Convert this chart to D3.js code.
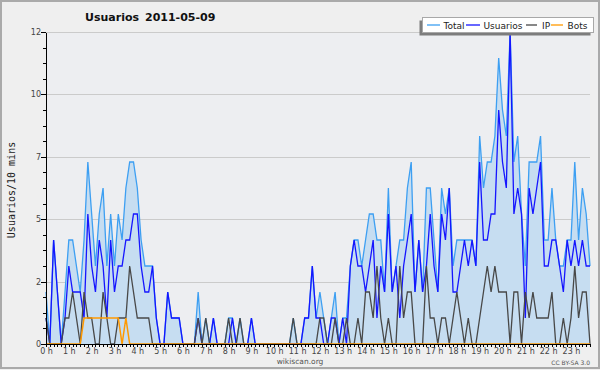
<!DOCTYPE html>
<meta charset="utf-8">
<style>
  body { margin: 0; background: #efefef; }
  svg { display: block; font-family: "DejaVu Sans", Verdana, sans-serif; }
</style>
<body>
<svg id="chart" width="600" height="370"></svg>
<script src="https://d3js.org/d3.v7.min.js"></script>
<script>
// users per 10 minutes, 144 slots (one day)
var total = [
  2,0,4,2,0,2, 4,4,3,2,4,7, 5,3,5,6,3,5, 3,5,4,6,7,7,
  6,4,3,3,3,1, 0,0,2,1,1,1, 0,0,0,0,2,0, 1,0,1,0,0,0,
  1,1,0,1,0,0, 1,0,0,0,0,0, 0,0,0,0,0,1, 0,0,1,1,3,1,
  2,1,0,1,2,0, 1,1,3,4,4,3, 4,5,5,4,4,2, 6,2,3,4,4,6,
  7,2,4,2,6,6, 4,2,6,5,6,3, 4,4,4,4,4,3, 8,6,7,7,8,11,
  9,8,12,7,8,5, 3,7,7,7,8,4, 4,6,4,3,3,4, 4,7,4,6,5,3
];
var usuarios = [
  1,0,4,2,0,1, 3,2,2,2,1,5, 3,2,4,3,1,4, 2,3,3,4,4,5,
  5,3,2,2,3,1, 0,0,2,1,1,1, 0,0,0,0,1,0, 0,0,1,0,0,0,
  0,1,0,0,0,0, 1,0,0,0,0,0, 0,0,0,0,0,0, 0,0,1,1,3,1,
  1,0,0,1,1,0, 1,0,3,4,3,3, 2,3,4,1,3,2, 5,2,3,1,3,4,
  5,2,4,2,3,5, 3,2,5,4,6,2, 2,3,4,3,4,3, 7,4,4,5,5,9,
  7,6,12,5,6,5, 1,6,5,6,7,3, 3,4,4,3,2,4, 3,4,3,4,3,3
];
var ip = [
  1,0,0,0,0,1, 1,2,1,0,2,1, 1,0,0,2,1,0, 0,1,1,1,3,2,
  1,1,1,1,0,0, 0,0,0,0,0,0, 0,0,0,0,1,0, 1,0,0,0,0,0,
  1,0,0,1,0,0, 0,0,0,0,0,0, 0,0,0,0,0,1, 0,0,0,0,0,0,
  1,1,0,0,1,0, 0,1,0,0,1,0, 2,2,1,3,1,0, 1,0,0,3,1,2,
  2,0,0,0,3,1, 1,0,1,1,0,1, 2,1,0,1,0,0, 1,2,3,2,3,2,
  2,2,0,2,2,0, 2,1,2,1,1,1, 1,2,0,0,1,0, 1,3,1,2,2,0
];
var bots = [
  0,0,0,0,0,0, 0,0,0,0,1,1, 1,1,1,1,1,1, 1,1,0,1,0,0,
  0,0,0,0,0,0, 0,0,0,0,0,0, 0,0,0,0,0,0, 0,0,0,0,0,0,
  0,0,0,0,0,0, 0,0,0,0,0,0, 0,0,0,0,0,0, 0,0,0,0,0,0,
  0,0,0,0,0,0, 0,0,0,0,0,0, 0,0,0,0,0,0, 0,0,0,0,0,0,
  0,0,0,0,0,0, 0,0,0,0,0,0, 0,0,0,0,0,0, 0,0,0,0,0,0,
  0,0,0,0,0,0, 0,0,0,0,0,0, 0,0,0,0,0,0, 0,0,0,0,0,0
];
var hourLabels = ["0 h","1 h","2 h","3 h","4 h","5 h","6 h","7 h","8 h","9 h","10 h","11 h",
  "12 h","13 h","14 h","15 h","16 h","17 h","18 h","19 h","20 h","21 h","22 h","23 h"];
var yTicks = [0, 2.4, 4.8, 7.2, 9.6, 12];
var seriesNames = ["Total", "Usuarios", "IP", "Bots"];
var seriesColors = ["#3d9ff2", "#1515ff", "#484848", "#ff9900"];

var svg = d3.select("#chart");
var x = d3.scaleLinear().domain([0, total.length - 1]).range([46, 590]);
var y = d3.scaleLinear().domain([0, 12]).range([344, 32]);

// page background + frame
svg.append("rect").attr("x", 1).attr("y", 1).attr("width", 598).attr("height", 367)
  .attr("fill", "#efefef").attr("stroke", "#aaa").attr("stroke-width", 2);

// plot area
svg.append("rect").attr("x", 46).attr("y", 32).attr("width", 544).attr("height", 312)
  .attr("fill", "#edeef1");

svg.append("g").selectAll("line").data(yTicks.slice(1)).enter().append("line")
  .attr("x1", 46).attr("x2", 590)
  .attr("y1", function (d) { return Math.round(y(d)) + 0.5; })
  .attr("y2", function (d) { return Math.round(y(d)) + 0.5; })
  .attr("stroke", "#cbcbcb");

// total area
var area = d3.area()
  .x(function (d, i) { return x(i); })
  .y0(y(0))
  .y1(function (d) { return y(d); });
svg.append("path").datum(total).attr("d", area).attr("fill", "#c6ddf1");

var line = d3.line()
  .x(function (d, i) { return x(i); })
  .y(function (d) { return y(d); });

[total, usuarios, ip, bots].forEach(function (s, k) {
  svg.append("path").datum(s).attr("d", line)
    .attr("fill", "none")
    .attr("stroke", seriesColors[k])
    .attr("stroke-width", k == 3 ? 1.5 : 1.3)
    .attr("stroke-linejoin", "miter");
});

// axes
var yMinor = svg.append("g").attr("transform", "translate(46,0)")
  .call(d3.axisLeft(y).tickValues(d3.range(0, 12.01, 0.6)).tickSize(3).tickSizeOuter(0).tickFormat(""));
var yAxis = svg.append("g").attr("transform", "translate(46,0)")
  .call(d3.axisLeft(y).tickValues(yTicks).tickSize(5).tickSizeOuter(0).tickPadding(0).tickFormat(d3.format(".0f")));
var xMinor = svg.append("g").attr("transform", "translate(0,344)")
  .call(d3.axisBottom(x).tickValues(d3.range(0, total.length)).tickSize(3).tickSizeOuter(0).tickFormat(""));
var xAxis = svg.append("g").attr("transform", "translate(0,344)")
  .call(d3.axisBottom(x).tickValues(d3.range(0, 144, 6)).tickSize(3).tickSizeOuter(0).tickPadding(1)
    .tickFormat(function (d, i) { return hourLabels[i]; }));

[yMinor, yAxis, xMinor, xAxis].forEach(function (g) {
  g.attr("font-family", null).attr("font-size", null);
  g.selectAll("path, line").attr("stroke", "#000").attr("shape-rendering", "crispEdges");
  g.selectAll("text").attr("fill", "#444").attr("font-size", "8px");
});

// titles
svg.append("text").attr("x", 85).attr("y", 20.5).attr("font-size", "11px").attr("font-weight", "bold")
  .attr("fill", "#111").text("Usuarios");
svg.append("text").attr("x", 145).attr("y", 20.5).attr("font-size", "11px").attr("font-weight", "bold")
  .attr("fill", "#111").text("2011-05-09");

svg.append("text").attr("transform", "translate(14.5,190) rotate(-90)")
  .attr("text-anchor", "middle").attr("font-family", "DejaVu Sans Mono")
  .attr("font-size", "10px").attr("fill", "#222").text("Usuarios/10 mins");

svg.append("text").attr("x", 300).attr("y", 364).attr("text-anchor", "middle")
  .attr("font-size", "7.5px").attr("fill", "#555").text("wikiscan.org");
svg.append("text").attr("x", 590).attr("y", 365).attr("text-anchor", "end")
  .attr("font-size", "6px").attr("fill", "#555").text("CC BY-SA 3.0");

// legend
var legend = svg.append("g");
legend.append("rect").attr("x", 419.5).attr("y", 20.5).attr("width", 171).attr("height", 15)
  .attr("fill", "#7d7d7d");
legend.append("rect").attr("x", 422.5).attr("y", 17.5).attr("width", 171).attr("height", 15)
  .attr("fill", "#fff").attr("stroke", "#a8a8a8");
var legX = [[427, 440, 443.5], [466, 480, 483.5], [526, 537, 542], [551, 563, 567.5]];
seriesNames.forEach(function (n, k) {
  legend.append("line").attr("x1", legX[k][0]).attr("x2", legX[k][1]).attr("y1", 25).attr("y2", 25)
    .attr("stroke", seriesColors[k]).attr("stroke-width", 1.3);
  legend.append("text").attr("x", legX[k][2]).attr("y", 28.5).attr("font-size", "9px")
    .attr("fill", "#222").text(n);
});
</script>
</body>
